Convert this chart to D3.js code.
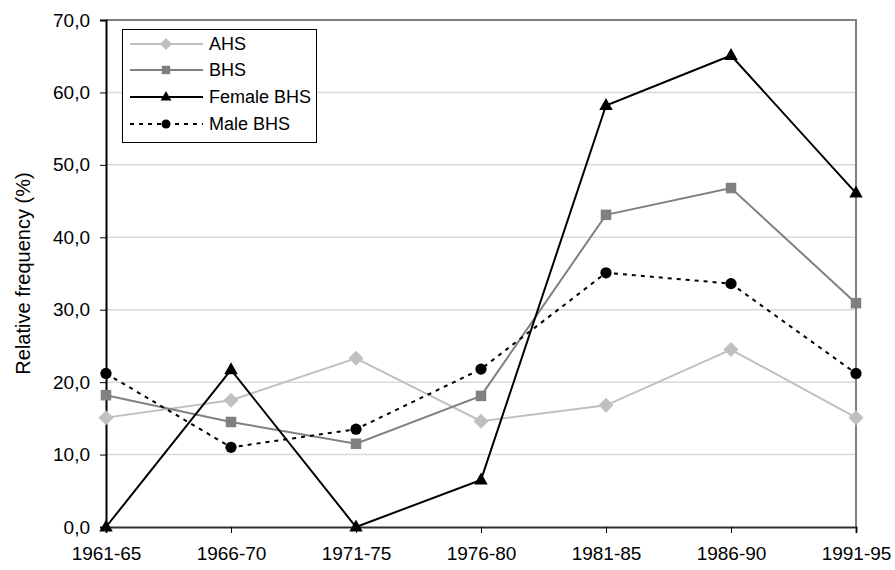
<!DOCTYPE html>
<html>
<head>
<meta charset="utf-8">
<script src="https://cdn.jsdelivr.net/npm/d3@7"></script>
<style>
  body { margin: 0; background: #fff; }
  text { font-family: "Liberation Sans", Arial, sans-serif; fill: #000; }
</style>
</head>
<body>
<svg width="895" height="570"></svg>
<script>
// categories and series (relative frequency, %)
var periods = ["1961-65", "1966-70", "1971-75", "1976-80", "1981-85", "1986-90", "1991-95"];
var ahs       = [15.1, 17.5, 23.3, 14.6, 16.8, 24.5, 15.1];
var bhs       = [18.2, 14.5, 11.5, 18.1, 43.1, 46.8, 30.9];
var femaleBhs = [0.0, 21.7, 0.0, 6.5, 58.2, 65.1, 46.1];
var maleBhs   = [21.2, 11.0, 13.5, 21.8, 35.1, 33.6, 21.2];
var yTicks = [0, 10, 20, 30, 40, 50, 60, 70];

var series = [
  {name: "AHS", values: ahs, color: "#c0c0c0", marker: "diamond", dash: null},
  {name: "BHS", values: bhs, color: "#808080", marker: "square", dash: null},
  {name: "Female BHS", values: femaleBhs, color: "#000", marker: "triangle", dash: null},
  {name: "Male BHS", values: maleBhs, color: "#000", marker: "circle", dash: "4,5"}
];

var svg = d3.select("svg");
var plotL = 106, plotR = 856, plotT = 20, plotB = 527;

var x = d3.scalePoint().domain(periods).range([plotL, plotR]);
var y = d3.scaleLinear().domain([0, 70]).range([plotB, plotT]);
var fmt = function(d) { return d3.format(".1f")(d).replace(".", ","); };

// gridlines
svg.append("g").selectAll("line")
  .data(yTicks.filter(function(d) { return d > 0 && d < 70; }))
  .enter().append("line")
    .attr("x1", plotL).attr("x2", plotR)
    .attr("y1", function(d) { return y(d); })
    .attr("y2", function(d) { return y(d); })
    .attr("stroke", "#d9d9d9").attr("stroke-width", 1.5);

// plot border top/right
svg.append("path")
  .attr("d", "M" + plotL + "," + plotT + "H" + plotR + "V" + plotB)
  .attr("fill", "none").attr("stroke", "#808080").attr("stroke-width", 2);

// y axis
var yAxis = svg.append("g")
  .attr("transform", "translate(" + plotL + ",0)")
  .call(d3.axisLeft(y).tickValues(yTicks).tickFormat(fmt).tickSize(6).tickPadding(10));
yAxis.select(".domain").attr("stroke", "#000").attr("stroke-width", 2);
yAxis.selectAll(".tick line").attr("stroke", "#000");
yAxis.selectAll(".tick text").attr("font-size", "19px").attr("font-family", null);

// x axis
var xAxis = svg.append("g")
  .attr("transform", "translate(0," + plotB + ")")
  .call(d3.axisBottom(x).tickSize(6).tickPadding(14));
xAxis.select(".domain").attr("stroke", "#303030").attr("stroke-width", 2);
xAxis.selectAll(".tick line").attr("stroke", "#000");
xAxis.selectAll(".tick text").attr("font-size", "19px").attr("font-family", null);

// y axis title
svg.append("text")
  .attr("transform", "translate(30," + ((plotT + plotB) / 2) + ") rotate(-90)")
  .attr("text-anchor", "middle")
  .attr("font-size", "20px")
  .text("Relative frequency (%)");

function drawMarker(g, type, cx, cy, s, color) {
  if (type === "diamond") {
    g.append("path")
      .attr("d", "M" + cx + "," + (cy - s) + "L" + (cx + s) + "," + cy + "L" + cx + "," + (cy + s) + "L" + (cx - s) + "," + cy + "Z")
      .attr("fill", color);
  } else if (type === "square") {
    g.append("rect")
      .attr("x", cx - s * 0.7).attr("y", cy - s * 0.7)
      .attr("width", s * 1.4).attr("height", s * 1.4)
      .attr("fill", color);
  } else if (type === "triangle") {
    g.append("path")
      .attr("d", "M" + cx + "," + (cy - s) + "L" + (cx + s * 0.9) + "," + (cy + s * 0.6) + "L" + (cx - s * 0.9) + "," + (cy + s * 0.6) + "Z")
      .attr("fill", color);
  } else {
    g.append("circle").attr("cx", cx).attr("cy", cy).attr("r", s * 0.75).attr("fill", color);
  }
}

var line = d3.line()
  .x(function(d, i) { return x(periods[i]); })
  .y(function(d) { return y(d); });

series.forEach(function(s) {
  var g = svg.append("g");
  g.append("path")
    .attr("d", line(s.values))
    .attr("fill", "none")
    .attr("stroke", s.color)
    .attr("stroke-width", 2)
    .attr("stroke-dasharray", s.dash);
  s.values.forEach(function(v, i) {
    drawMarker(g, s.marker, x(periods[i]), y(v), 7.5, s.color);
  });
});

// legend
var lg = svg.append("g");
lg.append("rect")
  .attr("x", 122.5).attr("y", 29.5).attr("width", 194).attr("height", 113)
  .attr("fill", "#fff").attr("stroke", "#000").attr("stroke-width", 1);
var ly = [44, 70, 97, 124];
series.forEach(function(s, i) {
  lg.append("line")
    .attr("x1", 130).attr("x2", 203)
    .attr("y1", ly[i]).attr("y2", ly[i])
    .attr("stroke", s.color).attr("stroke-width", 2)
    .attr("stroke-dasharray", s.dash);
  drawMarker(lg, s.marker, 166, ly[i], 6, s.color);
  lg.append("text")
    .attr("x", 209).attr("y", ly[i]).attr("dy", "0.36em")
    .attr("font-size", "18px")
    .text(s.name);
});
</script>
</body>
</html>
